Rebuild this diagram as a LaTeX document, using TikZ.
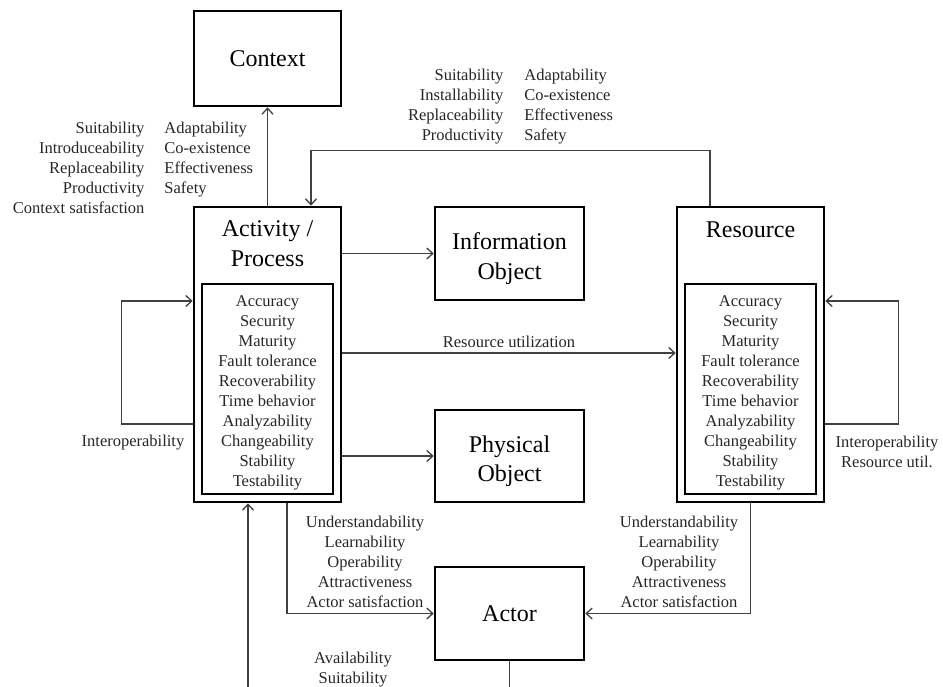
\documentclass[tikz,border=0pt]{standalone}
\usepackage{fontspec}
\setmainfont{Liberation Serif}
\usetikzlibrary{arrows.meta}
\begin{document}
\begin{tikzpicture}[x=1pt,y=-1pt]
	\tikzset{bigbox/.style = {draw, line width=2.6pt, inner sep=0pt, font=\fontsize{24}{29}\selectfont, align=center},
		inbox/.style = {draw, line width=1.2pt, minimum width=131pt, minimum height=210pt, inner sep=0pt},
		headtext/.style = {inner sep=0pt, font=\fontsize{24}{29.5}\selectfont, align=center},
		lbl/.style = {inner sep=0pt, font=\fontsize{16.5}{20}\selectfont, align=center, text=black!85},
		wire/.style = {draw=black!75, line width=1.3pt},
		conn/.style = {wire, -{Straight Barb[length=6pt,width=11pt]}}}

	\useasboundingbox (0,0) rectangle (943,687);

	\node[bigbox, minimum width=147pt, minimum height=95pt] (ctx) at (267.5,58.5) {Context};

	\node[bigbox, minimum width=147pt, minimum height=295pt] (act) at (267.5,354.5) {};
	\node[headtext] (act_t) at (267.5,243.5) {Activity /\\Process};
	\node[inbox] (act_in) at (267.5,389) {};
	\node[lbl] (act_l) at (267.5,393) {Accuracy\\Security\\Maturity\\Fault tolerance\\Recoverability\\Time behavior\\Analyzability\\Changeability\\Stability\\Testability};

	\node[bigbox, minimum width=147pt, minimum height=295pt] (res) at (750.5,354.5) {};
	\node[headtext] (res_t) at (750.5,229.5) {Resource};
	\node[inbox] (res_in) at (750.5,389) {};
	\node[lbl] (res_l) at (750.5,393) {Accuracy\\Security\\Maturity\\Fault tolerance\\Recoverability\\Time behavior\\Analyzability\\Changeability\\Stability\\Testability};

	\node[bigbox, minimum width=149pt, minimum height=93pt] (info) at (509.5,253.5) {};
	\node[headtext] (info_t) at (509.5,258.5) {Information\\Object};
	\node[bigbox, minimum width=149pt, minimum height=92pt] (phys) at (509.5,456) {};
	\node[headtext] (phys_t) at (509.5,461) {Physical\\Object};
	\node[bigbox, minimum width=149pt, minimum height=93pt] (actor) at (509.5,613.5) {Actor};

	\coordinate (bot_l) at (248,687);
	\coordinate (bot_r) at (509.5,687);

	\draw[conn] (act.north) -- (ctx.south);
	\draw[conn] ([xshift=-40.5pt]res.north) -- ++(0,-55) -| ([xshift=43.5pt]act.north);
	\draw[conn] (act.east |- info.west) -- (info.west);
	\draw[conn] ([yshift=1.5pt]act.east) -- ([yshift=1.5pt]res.west) node[lbl, midway, above=5pt] (use) {Resource utilization};
	\draw[conn] (act.east |- phys.west) -- (phys.west);
	\draw[conn] ([yshift=-69.5pt]act.west) -- ++(-71,0) |- ([yshift=53.5pt]act.west);
	\draw[conn] ([yshift=-69.5pt]res.east) -- ++(73,0) |- ([yshift=53.5pt]res.east);
	\draw[conn] ([xshift=19.5pt]act.south) |- (actor.west);
	\draw[conn] (res.south) |- (actor.east);
	\draw[conn] (bot_l) -- (bot_l |- act.south);
	\draw[wire] (actor.south) -- (bot_r);

	\node[lbl] (ctx_q) at (133,170) {\begin{tabular}{@{}r@{\hspace{20pt}}l@{}}Suitability & Adaptability\\Introduceability & Co-existence\\Replaceability & Effectiveness\\Productivity & Safety\\Context satisfaction & \end{tabular}};
	\node[lbl] (res_q) at (510.5,107) {\begin{tabular}{@{}r@{\hspace{21pt}}l@{}}Suitability & Adaptability\\Installability & Co-existence\\Replaceability & Effectiveness\\Productivity & Safety\end{tabular}};
	\node[lbl] (act_u) at (365,561.5) {Understandability\\Learnability\\Operability\\Attractiveness\\Actor satisfaction};
	\node[lbl] (res_u) at (679,561.5) {Understandability\\Learnability\\Operability\\Attractiveness\\Actor satisfaction};
	\node[lbl] (act_io) at (133,443) {Interoperability};
	\node[lbl] (res_io) at (887,452) {Interoperability\\Resource util.};
	\node[lbl] (avail) at (353,670) {Availability\\Suitability};

\end{tikzpicture}
\end{document}
